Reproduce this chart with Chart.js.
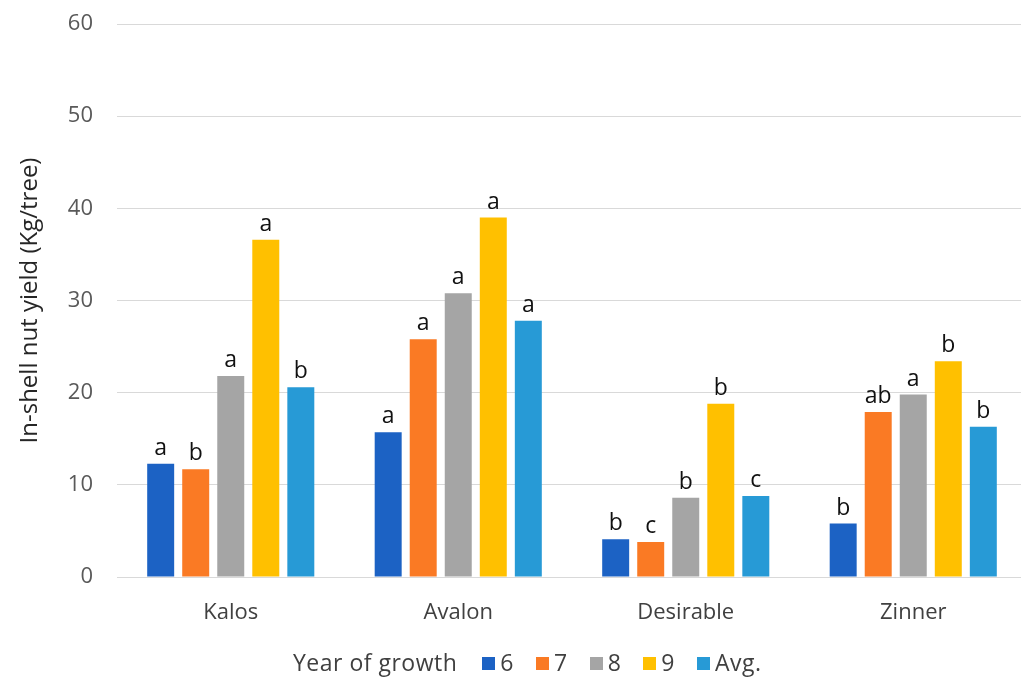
<!DOCTYPE html>
<html>
<head>
<meta charset="utf-8">
<script src="https://cdn.jsdelivr.net/npm/chart.js@4.4.1/dist/chart.umd.min.js"></script>
<style>
body{margin:0;background:#fff;}
#wrap{position:relative;width:1021px;height:680px;overflow:hidden;}
#legend{position:absolute;left:293px;top:647px;white-space:nowrap;font-family:"Open Sans",sans-serif;font-size:23px;letter-spacing:0.5px;color:#404040;line-height:30px;}
#legend span.item{margin-left:22px;}
#legend span.item:first-child{margin-left:25px;}
#legend i{display:inline-block;width:13px;height:13px;margin-right:5px;vertical-align:1px;}
</style>
</head>
<body>
<div id="wrap">
<!-- plot area in the original runs a few px past the right edge, so the canvas is a bit wider and clipped -->
<canvas id="chartYield" width="1027" height="680"></canvas>
<div id="legend"></div>
</div>
<script>
var cultivars = ['Kalos','Avalon','Desirable','Zinner'];
var seriesNames = ['6','7','8','9','Avg.'];
var seriesColours = ['#1C62C4','#FA7A24','#A5A5A5','#FFC000','#279AD6'];
var yr6 = [12.3, 15.7, 4.1, 5.8];
var yr7 = [11.7, 25.8, 3.8, 17.9];
var yr8 = [21.8, 30.8, 8.6, 19.8];
var yr9 = [36.6, 39.0, 18.8, 23.4];
var yrAvg = [20.6, 27.8, 8.8, 16.3];
var let6 = ['a','a','b','b'];
var let7 = ['b','a','c','ab'];
var let8 = ['a','a','b','a'];
var let9 = ['a','a','b','b'];
var letAvg = ['b','a','c','b'];
var yTicks = [0,10,20,30,40,50,60];

var allValues = [yr6,yr7,yr8,yr9,yrAvg];
var allLetters = [let6,let7,let8,let9,letAvg];

var letterPlugin = {
  id:'letters',
  afterDatasetsDraw: function(chart){
    var ctx = chart.ctx;
    ctx.save();
    ctx.font = '23px "Open Sans"';
    ctx.fillStyle = '#111';
    ctx.textAlign = 'center';
    ctx.textBaseline = 'alphabetic';
    chart.data.datasets.forEach(function(ds,i){
      var meta = chart.getDatasetMeta(i);
      meta.data.forEach(function(bar,j){
        ctx.fillText(allLetters[i][j], bar.x, bar.y - 9);
      });
    });
    ctx.restore();
  }
};

var chartYield = new Chart(document.getElementById('chartYield'), {
  type:'bar',
  data:{
    labels:cultivars,
    datasets: allValues.map(function(v,i){
      return {label:seriesNames[i], data:v, backgroundColor:seriesColours[i],
        categoryPercentage:0.77, barPercentage:0.77};
    })
  },
  options:{
    responsive:false,
    animation:false,
    layout:{padding:{left:12,right:0,top:24,bottom:57}},
    plugins:{legend:{display:false},tooltip:{enabled:false}},
    scales:{
      x:{
        grid:{display:false,drawTicks:false},
        border:{display:true,color:'#d9d9d9'},
        ticks:{color:'#404040',font:{family:'"Open Sans"',size:22},padding:23},
        afterFit:function(s){s.height=46;s.paddingLeft=0;s.paddingRight=0;}
      },
      y:{
        min:0,max:60,
        afterBuildTicks:function(s){s.ticks = yTicks.map(function(v){return {value:v};});},
        grid:{color:'#d9d9d9',drawTicks:false},
        border:{display:false},
        ticks:{color:'#595959',font:{family:'"Open Sans"',size:22},padding:24},
        title:{display:true,text:'In-shell nut yield (Kg/tree)',color:'#262626',font:{family:'"Open Sans"',size:24},padding:{top:4,bottom:8}},
        afterFit:function(s){s.width=105;s.paddingTop=0;s.paddingBottom=0;}
      }
    }
  },
  plugins:[letterPlugin]
});

var lg = document.getElementById('legend');
var html = 'Year of growth';
seriesNames.forEach(function(n,i){
  html += '<span class="item"><i style="background:'+seriesColours[i]+'"></i>'+n+'</span>';
});
lg.innerHTML = html;
</script>
</body>
</html>
